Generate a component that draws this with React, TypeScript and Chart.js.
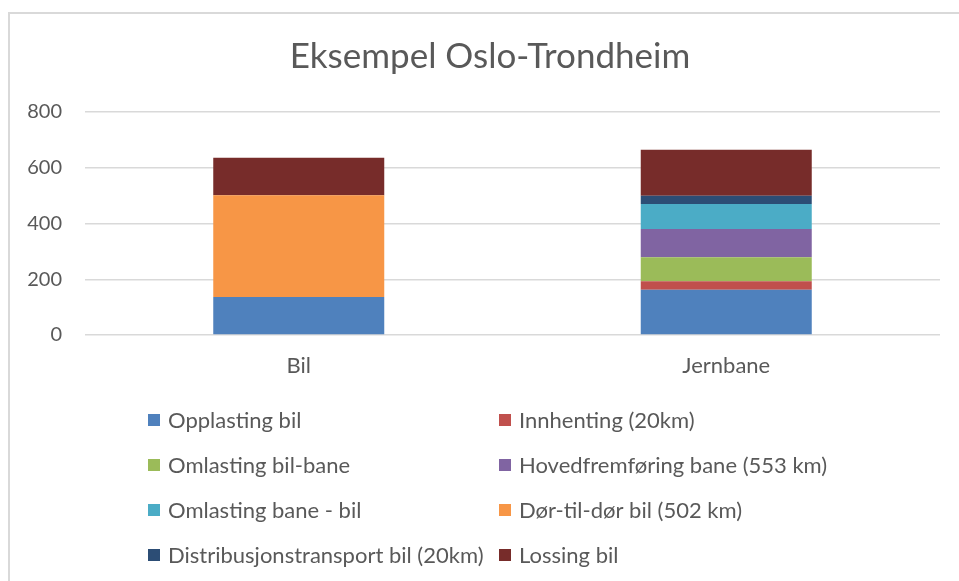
import React, { useEffect, useRef } from "react";
import { Chart, registerables } from "chart.js";

Chart.register(...registerables);

const categories = ["Bil", "Jernbane"];
const seriesNames = [
  "Opplasting bil",
  "Innhenting (20km)",
  "Omlasting bil-bane",
  "Hovedfremføring bane (553 km)",
  "Omlasting bane - bil",
  "Dør-til-dør bil (502 km)",
  "Distribusjonstransport bil (20km)",
  "Lossing bil",
];
const opplastingBil = [136, 162];
const innhenting = [0, 31];
const omlastingBilBane = [0, 86];
const hovedfremforing = [0, 101];
const omlastingBaneBil = [0, 90];
const dorTilDor = [365, 0];
const distribusjon = [0, 30];
const lossingBil = [135, 165];
const seriesValues = [
  opplastingBil,
  innhenting,
  omlastingBilBane,
  hovedfremforing,
  omlastingBaneBil,
  dorTilDor,
  distribusjon,
  lossingBil,
];
const seriesColors = [
  "#4f81bd",
  "#c0504d",
  "#9bbb59",
  "#8064a2",
  "#4bacc6",
  "#f79646",
  "#2c4d75",
  "#772c2a",
];
const yTicks = [0, 200, 400, 600, 800];
const titleText = "Eksempel Oslo-Trondheim";

const FONT = "Lato";
const TEXT = "#595959";

const titlePlugin = {
  id: "centeredTitle",
  afterDraw(chart: any) {
    const ctx = chart.ctx as CanvasRenderingContext2D;
    ctx.save();
    ctx.font = `35px ${FONT}`;
    ctx.fillStyle = TEXT;
    ctx.textAlign = "center";
    ctx.textBaseline = "middle";
    ctx.fillText(titleText, 490, 57);
    ctx.restore();
  },
};

const legendPlugin = {
  id: "gridLegend",
  afterDraw(chart: any) {
    const ctx = chart.ctx as CanvasRenderingContext2D;
    const colX = [148, 499];
    const rowY = [420, 465, 510, 555];
    const box = 12;
    ctx.save();
    ctx.font = `22px ${FONT}`;
    ctx.textBaseline = "middle";
    ctx.textAlign = "left";
    chart.data.datasets.forEach((ds: any, i: number) => {
      const x = colX[i % 2];
      const y = rowY[Math.floor(i / 2)];
      ctx.fillStyle = ds.backgroundColor;
      ctx.fillRect(x, y - box / 2, box, box);
      ctx.fillStyle = TEXT;
      ctx.fillText(ds.label, x + 20, y + 1);
    });
    ctx.restore();
  },
};

export default function App() {
  const ref = useRef<HTMLCanvasElement | null>(null);
  useEffect(() => {
    if (!ref.current) return;
    const chart = new Chart(ref.current, {
      type: "bar",
      data: {
        labels: categories,
        datasets: seriesNames.map((name, i) => ({
          label: name,
          data: seriesValues[i],
          backgroundColor: seriesColors[i],
          borderWidth: 0,
          categoryPercentage: 1,
          barPercentage: 0.4,
        })),
      },
      options: {
        animation: false,
        responsive: false,
        maintainAspectRatio: false,
        layout: { padding: { left: 0, right: 19, top: 112, bottom: 0 } },
        plugins: {
          legend: { display: false },
          tooltip: { enabled: false },
          title: { display: false },
        },
        scales: {
          x: {
            stacked: true,
            grid: { display: false },
            border: { display: false },
            ticks: { color: TEXT, font: { family: FONT, size: 22 }, padding: 10 },
            afterFit: (s: any) => {
              s.height = 246;
            },
          },
          y: {
            stacked: true,
            min: 0,
            max: 800,
            afterBuildTicks: (s: any) => {
              s.ticks = yTicks.map((v) => ({ value: v }));
            },
            grid: { color: "#d9d9d9", lineWidth: 1.5, drawTicks: false },
            border: { display: false },
            ticks: { color: TEXT, font: { family: FONT, size: 20 }, padding: 23 },
            afterFit: (s: any) => {
              s.width = 85;
            },
          },
        },
      },
      plugins: [titlePlugin, legendPlugin],
    });
    return () => chart.destroy();
  }, []);
  return (
    <div style={{ position: "fixed", left: 0, top: 0, width: 959, height: 581, background: "#fff", overflow: "hidden" }}>
      <canvas ref={ref} width={959} height={581} style={{ position: "absolute", left: 0, top: 0 }} />
      <div
        style={{
          position: "absolute",
          left: 8,
          top: 12,
          width: 960,
          height: 600,
          borderLeft: "2px solid #d9d9d9",
          borderTop: "2px solid #d9d9d9",
          pointerEvents: "none",
        }}
      />
    </div>
  );
}
